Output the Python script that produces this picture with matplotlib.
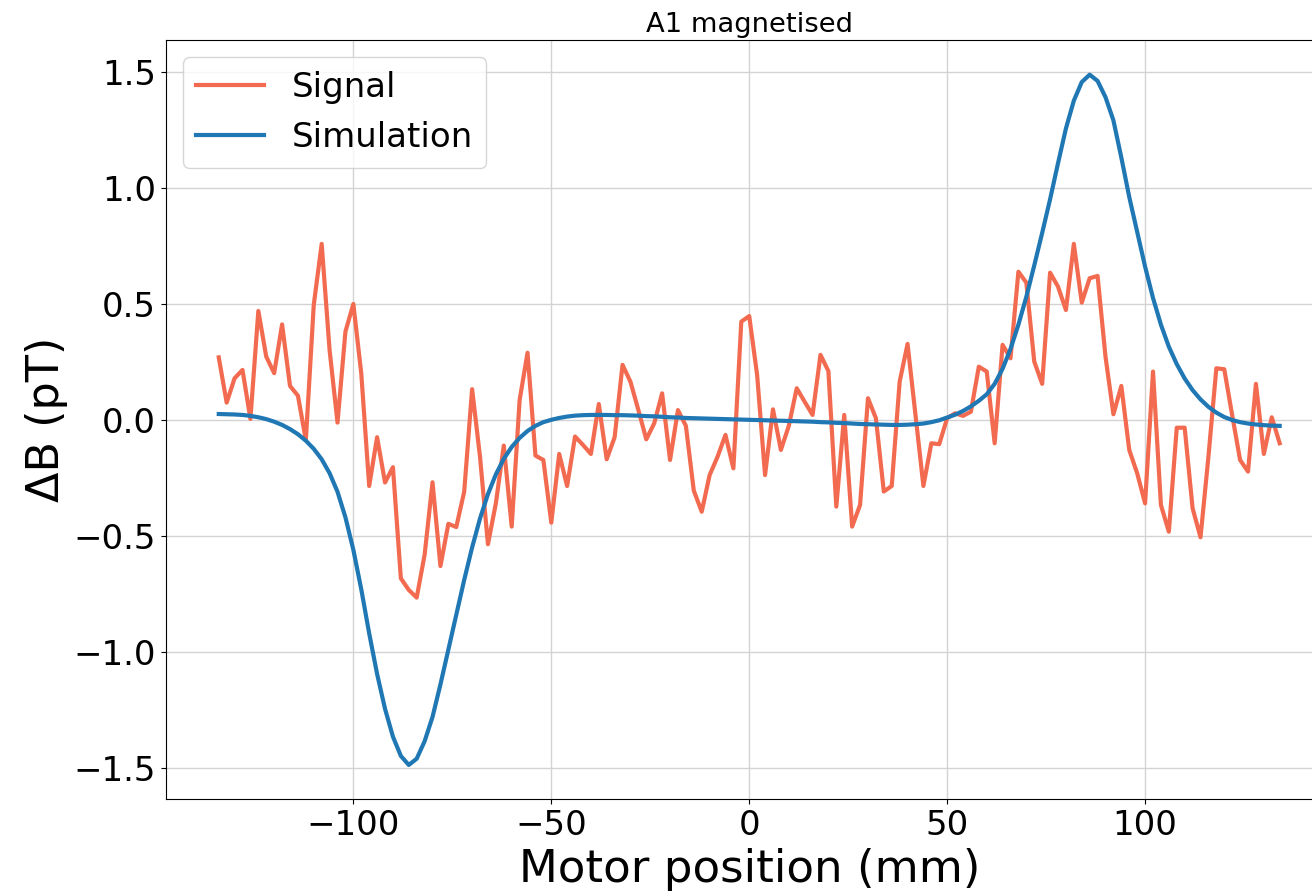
import numpy as np
import matplotlib
matplotlib.use("Agg")
import matplotlib.pyplot as plt

# motor positions (mm), 2 mm steps
position = np.arange(-134, 135, 2)

signal = [
    0.269, 0.074, 0.179, 0.215, 0.004, 0.469, 0.272, 0.201, 0.411, 0.146,
    0.104, -0.087, 0.495, 0.758, 0.300, -0.012, 0.380, 0.499, 0.200, -0.285,
    -0.075, -0.270, -0.204, -0.683, -0.733, -0.766, -0.582, -0.269, -0.630, -0.448,
    -0.462, -0.310, 0.132, -0.160, -0.536, -0.360, -0.111, -0.460, 0.085, 0.289,
    -0.154, -0.173, -0.443, -0.147, -0.285, -0.072, -0.108, -0.147, 0.068, -0.170,
    -0.075, 0.237, 0.164, 0.042, -0.084, -0.015, 0.114, -0.173, 0.042, -0.026,
    -0.305, -0.396, -0.238, -0.159, -0.065, -0.209, 0.423, 0.447, 0.193, -0.238,
    0.045, -0.130, -0.026, 0.136, 0.078, 0.021, 0.280, 0.210, -0.374, 0.021,
    -0.460, -0.367, 0.093, 0.007, -0.309, -0.285, 0.164, 0.327, 0.021, -0.285,
    -0.101, -0.105, 0.007, 0.028, 0.017, 0.035, 0.229, 0.208, -0.101, 0.323,
    0.265, 0.638, 0.591, 0.251, 0.155, 0.634, 0.574, 0.473, 0.758, 0.505,
    0.610, 0.620, 0.272, 0.024, 0.146, -0.130, -0.230, -0.360, 0.208, -0.367,
    -0.482, -0.034, -0.034, -0.381, -0.506, -0.159, 0.222, 0.218, 0.020, -0.173,
    -0.223, 0.155, -0.147, 0.011, -0.101,
]

simulation = [
    0.025, 0.024, 0.023, 0.021, 0.017, 0.011, 0.003, -0.008, -0.022, -0.040,
    -0.062, -0.090, -0.125, -0.170, -0.230, -0.310, -0.420, -0.560, -0.730, -0.920,
    -1.095, -1.245, -1.365, -1.448, -1.487, -1.460, -1.385, -1.280, -1.140, -0.990,
    -0.840, -0.690, -0.550, -0.425, -0.320, -0.235, -0.168, -0.117, -0.078, -0.048,
    -0.026, -0.010, 0.000, 0.008, 0.014, 0.018, 0.020, 0.021, 0.021, 0.021,
    0.020, 0.020, 0.019, 0.018, 0.016, 0.015, 0.013, 0.011, 0.010, 0.008,
    0.007, 0.006, 0.005, 0.004, 0.003, 0.002, 0.001, 0.000, -0.001, -0.002,
    -0.003, -0.004, -0.005, -0.006, -0.007, -0.008, -0.010, -0.011, -0.013, -0.014,
    -0.016, -0.018, -0.019, -0.020, -0.021, -0.022, -0.022, -0.021, -0.019, -0.016,
    -0.010, -0.002, 0.010, 0.022, 0.038, 0.058, 0.082, 0.110, 0.155, 0.220,
    0.305, 0.410, 0.530, 0.665, 0.805, 0.950, 1.105, 1.255, 1.375, 1.455,
    1.487, 1.460, 1.390, 1.290, 1.130, 0.960, 0.810, 0.660, 0.525, 0.410,
    0.315, 0.240, 0.178, 0.128, 0.088, 0.056, 0.031, 0.012, -0.001, -0.010,
    -0.016, -0.020, -0.023, -0.025, -0.026,
]

fig = plt.figure(figsize=(13.12, 8.96), dpi=100)
# axes run past the right edge, like the cropped original
ax = fig.add_axes([0.1263, 0.1079, 0.8895, 0.8471])

ax.plot(position, signal, color="#f26b50", lw=3, label="Signal")
ax.plot(position, simulation, color="#1f77b4", lw=3, label="Simulation")

ax.set_xlim(-147.4, 147.4)
ax.set_ylim(-1.635, 1.635)
ax.set_xticks([-100, -50, 0, 50, 100])
ax.set_yticks([-1.5, -1.0, -0.5, 0.0, 0.5, 1.0, 1.5])
ax.grid(True, color="#d3d3d3", lw=1)
ax.set_axisbelow(True)
ax.tick_params(labelsize=24.5)

ax.set_title("A1 magnetised", fontsize=19.7)
ax.set_xlabel("Motor position (mm)", fontsize=32.5)
ax.set_ylabel("ΔB (pT)", fontsize=32)
ax.legend(loc="upper left", fontsize=24.5)

fig.savefig("out.png", dpi=100)
